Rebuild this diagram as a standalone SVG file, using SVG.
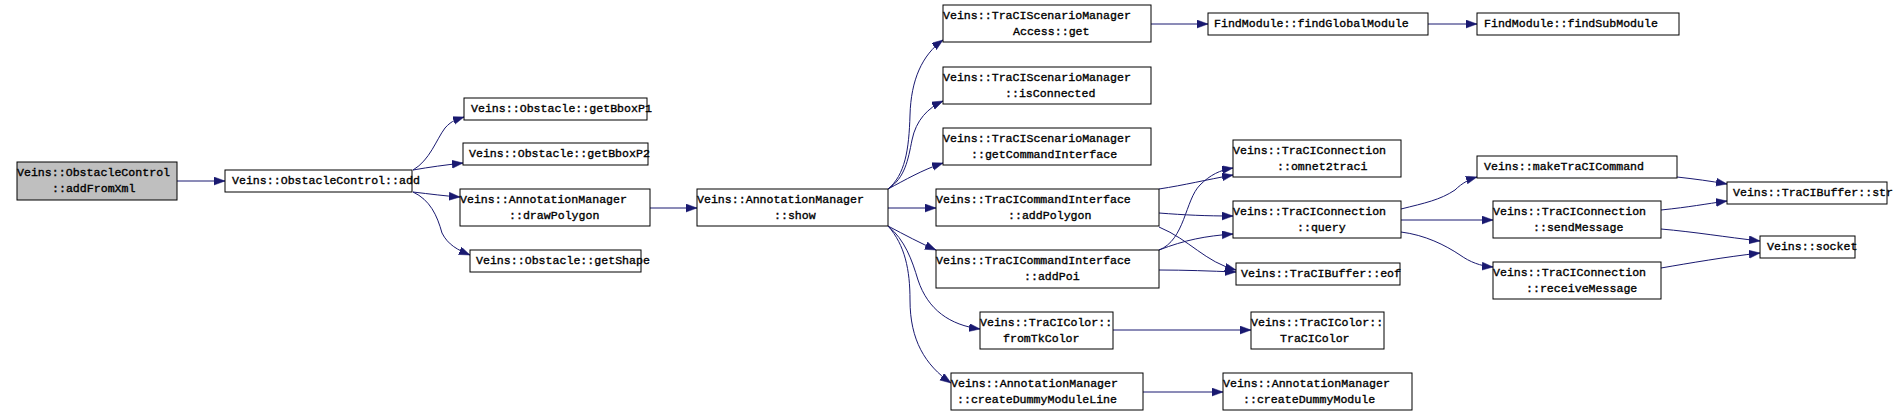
<svg xmlns="http://www.w3.org/2000/svg" width="1903" height="417" viewBox="0 0 1903 417">
<style>
.n rect{fill:#fff;stroke:#000;stroke-width:1}
.n.root rect{fill:#bfbfbf}
.n text{font-family:"Liberation Mono","DejaVu Sans Mono",monospace;font-size:11.6px;fill:#000;stroke:#000;stroke-width:0.35}
.e path{fill:none;stroke:#191970;stroke-width:1;marker-end:url(#ah)}
</style>
<defs>
<marker id="ah" markerUnits="userSpaceOnUse" markerWidth="12" markerHeight="9" refX="11" refY="4" orient="auto">
<path d="M0,0 L11,4 L0,8 z" fill="#191970" stroke="#191970" stroke-width="0.5"/>
</marker>
</defs>
<rect width="1903" height="417" fill="#fff"/>
<g id="connectors" class="e">
<path d="M177,181 L225,181"/>
<path d="M413,170 C430,160 436,140 445,128 C452,120 458,119 464,117"/>
<path d="M413,170 C430,167 445,165 463,163"/>
<path d="M413,192 C430,194 445,196 460,197"/>
<path d="M413,192 C430,200 437,215 442,233 C448,245 458,250 470,255"/>
<path d="M650,208 L697,208"/>
<path d="M888,189 C905,175 909,150 910,115 C911,80 922,55 943,40"/>
<path d="M888,189 C905,178 908,160 912,140 C916,120 928,108 943,101"/>
<path d="M888,189 C905,180 922,170 943,163"/>
<path d="M888,208 L936,208"/>
<path d="M888,226 C905,235 920,243 936,250"/>
<path d="M888,226 C905,240 912,260 918,280 C928,310 950,325 980,329"/>
<path d="M888,226 C905,245 910,270 910,300 C910,340 925,365 951,383"/>
<path d="M1151,24 L1208,24"/>
<path d="M1428,24 L1477,24"/>
<path d="M1159,189 C1185,185 1205,180 1233,175"/>
<path d="M1159,213 C1185,215 1205,216 1233,216"/>
<path d="M1159,227 C1190,240 1205,262 1236,270"/>
<path d="M1159,250 C1185,240 1185,200 1200,185 C1210,175 1220,170 1233,168"/>
<path d="M1159,250 C1185,240 1205,236 1233,234"/>
<path d="M1159,270 C1185,270 1210,271 1236,272"/>
<path d="M1401,209 C1425,203 1440,200 1455,190 C1462,183 1470,179 1477,177"/>
<path d="M1401,220 L1493,220"/>
<path d="M1401,232 C1425,235 1445,245 1460,255 C1470,262 1480,266 1493,267"/>
<path d="M1677,177 C1695,179 1710,181 1727,184"/>
<path d="M1661,210 C1690,207 1705,204 1727,201"/>
<path d="M1661,229 C1695,232 1725,237 1760,241"/>
<path d="M1661,268 C1690,263 1725,257 1760,253"/>
<path d="M1113,330 L1251,330"/>
<path d="M1143,392 L1223,392"/>
</g>
<g id="addFromXml" class="n root"><rect x="17" y="162" width="160" height="38"/><text x="17" y="176">Veins::ObstacleControl</text><text x="52" y="192">::addFromXml</text></g>
<g id="add" class="n"><rect x="225" y="170" width="187" height="22"/><text x="232" y="184">Veins::ObstacleControl::add</text></g>
<g id="getBboxP1" class="n"><rect x="464" y="98" width="183" height="22"/><text x="471" y="112">Veins::Obstacle::getBboxP1</text></g>
<g id="getBboxP2" class="n"><rect x="463" y="143" width="185" height="22"/><text x="469" y="157">Veins::Obstacle::getBboxP2</text></g>
<g id="drawPolygon" class="n"><rect x="460" y="189" width="190" height="37"/><text x="460" y="203">Veins::AnnotationManager</text><text x="509" y="219">::drawPolygon</text></g>
<g id="getShape" class="n"><rect x="470" y="250" width="171" height="22"/><text x="476" y="264">Veins::Obstacle::getShape</text></g>
<g id="show" class="n"><rect x="697" y="189" width="191" height="37"/><text x="697" y="203">Veins::AnnotationManager</text><text x="774" y="219">::show</text></g>
<g id="scmAccessGet" class="n"><rect x="943" y="5" width="208" height="37"/><text x="943" y="19">Veins::TraCIScenarioManager</text><text x="1013" y="35">Access::get</text></g>
<g id="isConnected" class="n"><rect x="943" y="67" width="208" height="37"/><text x="943" y="81">Veins::TraCIScenarioManager</text><text x="1005" y="97">::isConnected</text></g>
<g id="getCommandInterface" class="n"><rect x="943" y="128" width="208" height="37"/><text x="943" y="142">Veins::TraCIScenarioManager</text><text x="971" y="158">::getCommandInterface</text></g>
<g id="addPolygon" class="n"><rect x="936" y="189" width="223" height="37"/><text x="936" y="203">Veins::TraCICommandInterface</text><text x="1008" y="219">::addPolygon</text></g>
<g id="addPoi" class="n"><rect x="936" y="250" width="223" height="38"/><text x="936" y="264">Veins::TraCICommandInterface</text><text x="1024" y="280">::addPoi</text></g>
<g id="fromTkColor" class="n"><rect x="980" y="312" width="133" height="37"/><text x="980" y="326">Veins::TraCIColor::</text><text x="1003" y="342">fromTkColor</text></g>
<g id="createDummyModuleLine" class="n"><rect x="951" y="373" width="192" height="37"/><text x="951" y="387">Veins::AnnotationManager</text><text x="957" y="403">::createDummyModuleLine</text></g>
<g id="findGlobalModule" class="n"><rect x="1208" y="13" width="220" height="22"/><text x="1214" y="27">FindModule::findGlobalModule</text></g>
<g id="findSubModule" class="n"><rect x="1477" y="13" width="202" height="22"/><text x="1484" y="27">FindModule::findSubModule</text></g>
<g id="omnet2traci" class="n"><rect x="1233" y="140" width="168" height="37"/><text x="1233" y="154">Veins::TraCIConnection</text><text x="1277" y="170">::omnet2traci</text></g>
<g id="query" class="n"><rect x="1233" y="201" width="168" height="37"/><text x="1233" y="215">Veins::TraCIConnection</text><text x="1297" y="231">::query</text></g>
<g id="eof" class="n"><rect x="1236" y="263" width="164" height="22"/><text x="1241" y="277">Veins::TraCIBuffer::eof</text></g>
<g id="TraCIColor" class="n"><rect x="1251" y="312" width="133" height="37"/><text x="1251" y="326">Veins::TraCIColor::</text><text x="1280" y="342">TraCIColor</text></g>
<g id="createDummyModule" class="n"><rect x="1223" y="373" width="189" height="37"/><text x="1223" y="387">Veins::AnnotationManager</text><text x="1243" y="403">::createDummyModule</text></g>
<g id="makeTraCICommand" class="n"><rect x="1477" y="156" width="200" height="22"/><text x="1484" y="170">Veins::makeTraCICommand</text></g>
<g id="sendMessage" class="n"><rect x="1493" y="201" width="168" height="37"/><text x="1493" y="215">Veins::TraCIConnection</text><text x="1533" y="231">::sendMessage</text></g>
<g id="receiveMessage" class="n"><rect x="1493" y="262" width="168" height="37"/><text x="1493" y="276">Veins::TraCIConnection</text><text x="1526" y="292">::receiveMessage</text></g>
<g id="str" class="n"><rect x="1727" y="182" width="160" height="22"/><text x="1733" y="196">Veins::TraCIBuffer::str</text></g>
<g id="socket" class="n"><rect x="1760" y="236" width="95" height="22"/><text x="1767" y="250">Veins::socket</text></g>
</svg>
